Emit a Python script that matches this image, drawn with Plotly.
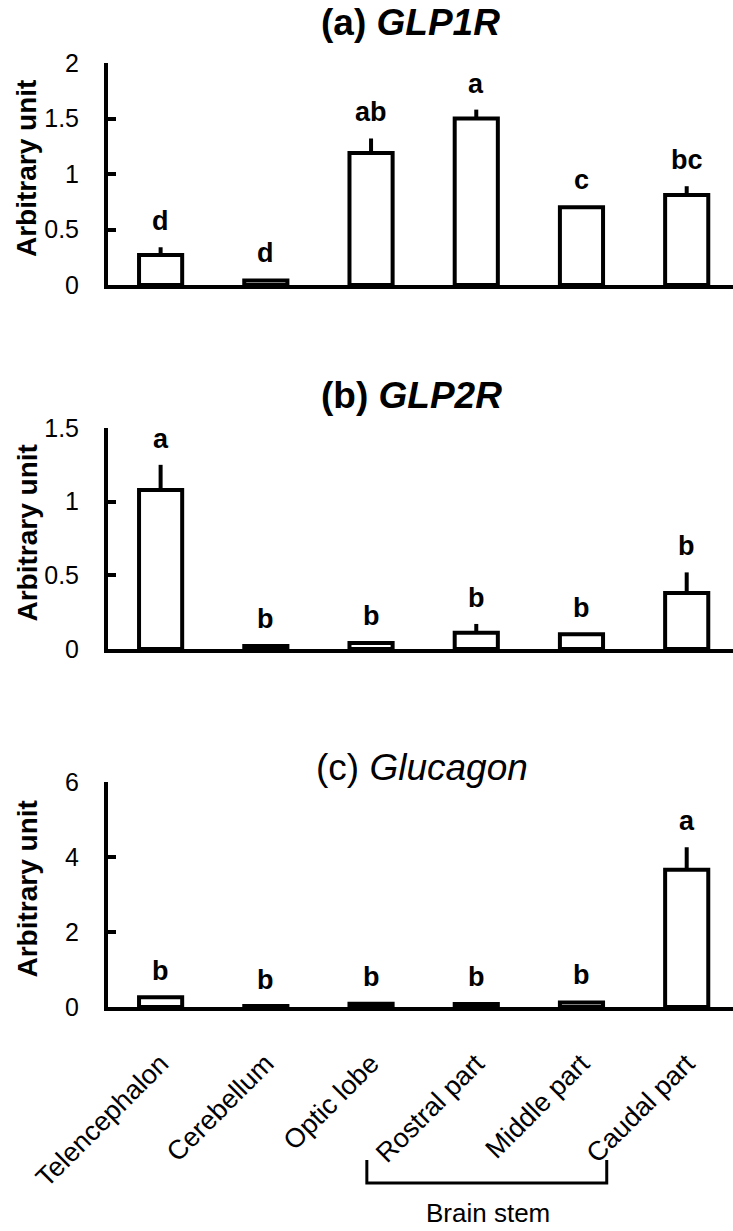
import plotly.graph_objects as go

W, H = 733, 1231

categories = ["Telencephalon", "Cerebellum", "Optic lobe", "Rostral part", "Middle part", "Caudal part"]

glp1r_mean = [0.27, 0.04, 1.19, 1.50, 0.70, 0.81]
glp1r_err = [0.07, 0.01, 0.13, 0.08, 0.01, 0.08]
glp1r_letters = ["d", "d", "ab", "a", "c", "bc"]

glp2r_mean = [1.08, 0.02, 0.04, 0.11, 0.10, 0.38]
glp2r_err = [0.17, 0.005, 0.005, 0.06, 0.005, 0.14]
glp2r_letters = ["a", "b", "b", "b", "b", "b"]

gcg_mean = [0.26, 0.03, 0.09, 0.08, 0.12, 3.66]
gcg_err = [0.02, 0.005, 0.02, 0.02, 0.03, 0.60]
gcg_letters = ["b", "b", "b", "b", "b", "a"]

panel_titles = ["<b>(a) <i>GLP1R</i></b>", "<b>(b) <i>GLP2R</i></b>", "(c) <i>Glucagon</i>"]
y_ranges = [[0, 2], [0, 1.5], [0, 6]]
y_dticks = [0.5, 0.5, 2]

FONT = "Arial, Liberation Sans, sans-serif"

def py(p):
    return 1 - p / H

# pixel positions (top, bottom) of each panel's y range
panel_px = [(63, 285), (428, 649), (782, 1007)]
title_px = [(410, 22), (411, 395), (422, 767)]

series = [(glp1r_mean, glp1r_err, glp1r_letters),
          (glp2r_mean, glp2r_err, glp2r_letters),
          (gcg_mean, gcg_err, gcg_letters)]

fig = go.Figure()
annotations = []
layout = {}
for i, (m, e, lett) in enumerate(series):
    n = "" if i == 0 else str(i + 1)
    fig.add_trace(go.Bar(
        x=categories, y=m, width=0.41,
        marker=dict(color="white", line=dict(color="black", width=4)),
        error_y=dict(type="data", array=e, arrayminus=[0] * len(e), symmetric=False,
                     width=0, thickness=4, color="black"),
        xaxis="x" + n, yaxis="y" + n, showlegend=False, hoverinfo="skip",
    ))
    top, bot = panel_px[i]
    layout["xaxis" + n] = dict(
        domain=[108 / W, 1], range=[-0.5, 5.44], anchor="y" + n,
        showline=True, linecolor="black", linewidth=4, ticks="", showgrid=False,
        zeroline=False, showticklabels=(i == 2), tickangle=-45, automargin=False,
        tickfont=dict(family=FONT, size=27, color="black"),
        ticklabelstandoff=26,
        categoryorder="array", categoryarray=categories,
    )
    layout["yaxis" + n] = dict(
        domain=[py(bot), py(top)], range=y_ranges[i], dtick=y_dticks[i], anchor="x" + n,
        showline=True, linecolor="black", linewidth=4, ticks="inside", ticklen=8,
        tickwidth=4, tickcolor="black", showgrid=False, zeroline=False, automargin=False,
        tickfont=dict(family=FONT, size=25, color="black"), ticklabelstandoff=20,
    )
    for c, v, er, t in zip(categories, m, e, lett):
        annotations.append(dict(
            x=c, y=v + er, xref="x" + n, yref="y" + n, text="<b>%s</b>" % t,
            showarrow=False, yanchor="bottom", yshift=9,
            font=dict(family=FONT, size=27, color="black"),
        ))
    tx, ty = title_px[i]
    annotations.append(dict(
        x=tx / W, y=py(ty), xref="paper", yref="paper", text=panel_titles[i],
        showarrow=False, xanchor="center", yanchor="middle",
        font=dict(family=FONT, size=37, color="black"),
    ))
    annotations.append(dict(
        x=27 / W, y=py((top + bot) / 2 - 5), xref="paper", yref="paper",
        text="<b>Arbitrary unit</b>", textangle=-90, showarrow=False,
        xanchor="center", yanchor="middle",
        font=dict(family=FONT, size=28, color="black"),
    ))

annotations.append(dict(
    x=488 / W, y=py(1213), xref="paper", yref="paper", text="Brain stem",
    showarrow=False, xanchor="center", yanchor="middle",
    font=dict(family=FONT, size=26, color="black"),
))

bx0, bx1 = 1.96, 4.24
shapes = [
    dict(type="path", xref="x3", yref="paper",
         path="M %f,%f L %f,%f L %f,%f L %f,%f" % (bx0, py(1160), bx0, py(1183), bx1, py(1183), bx1, py(1160)),
         line=dict(color="black", width=3)),
]

fig.update_layout(
    width=W, height=H, margin=dict(l=0, r=0, t=0, b=0),
    paper_bgcolor="white", plot_bgcolor="white",
    annotations=annotations, shapes=shapes, bargap=0.5,
    **layout,
)

fig.write_html("out.html")
